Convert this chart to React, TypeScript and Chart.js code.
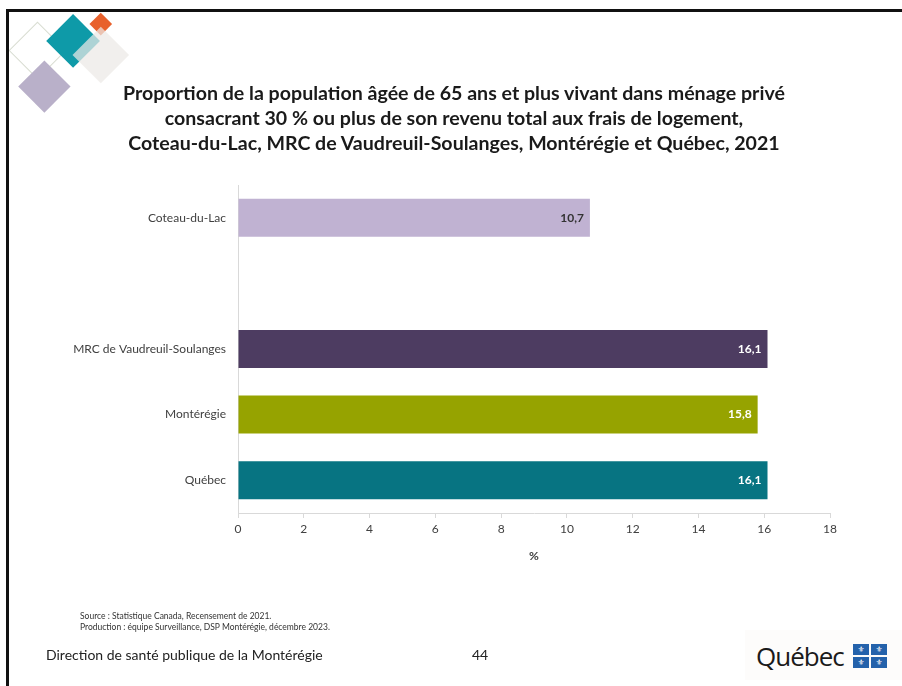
import React, { useEffect, useRef } from "react";
import { Chart, registerables } from "chart.js";

Chart.register(...registerables);

const categories = ["Coteau-du-Lac", "", "MRC de Vaudreuil-Soulanges", "Montérégie", "Québec"];
const values: (number | null)[] = [10.7, null, 16.1, 15.8, 16.1];
const barColors = ["#c0b2d2", "#ffffff", "#4d3c61", "#96a300", "#077482"];
const valueLabelColors = ["#333333", "#ffffff", "#ffffff", "#ffffff", "#ffffff"];
const xTickMin = 0;
const xTickMax = 18;
const xTickStep = 2;
const titleLines = [
  "Proportion de la population âgée de 65 ans et plus vivant dans ménage privé",
  "consacrant 30 % ou plus de son revenu total aux frais de logement,",
  "Coteau-du-Lac, MRC de Vaudreuil-Soulanges, Montérégie et Québec, 2021",
];
const sourceLines = [
  "Source : Statistique Canada, Recensement de 2021.",
  "Production : équipe Surveillance, DSP Montérégie, décembre 2023.",
];
const footerLeft = "Direction de santé publique de la Montérégie";
const pageNumber = "44";

const FONT = "Lato, 'Open Sans', sans-serif";

const valueLabelPlugin = {
  id: "valueLabels",
  afterDatasetsDraw(chart: any) {
    const ctx = chart.ctx;
    const meta = chart.getDatasetMeta(0);
    ctx.save();
    ctx.font = `bold 12px ${FONT}`;
    ctx.textAlign = "right";
    ctx.textBaseline = "middle";
    meta.data.forEach((bar: any, i: number) => {
      const v = values[i];
      if (v == null) return;
      ctx.fillStyle = valueLabelColors[i];
      ctx.fillText(v.toFixed(1).replace(".", ","), bar.x - 6, bar.y);
    });
    ctx.restore();
  },
};

function Diamond(props: { cx: number; cy: number; r: number; bg?: string; border?: string; z?: number }) {
  const side = props.r * Math.SQRT2;
  return (
    <div
      style={{
        position: "absolute",
        left: props.cx - side / 2,
        top: props.cy - side / 2,
        width: side,
        height: side,
        background: props.bg || "transparent",
        border: props.border || "none",
        boxSizing: "border-box",
        transform: "rotate(45deg)",
        zIndex: props.z || 1,
      }}
    />
  );
}

export default function App() {
  const canvasRef = useRef<HTMLCanvasElement | null>(null);

  useEffect(() => {
    if (!canvasRef.current) return;
    const chart = new Chart(canvasRef.current, {
      type: "bar",
      data: {
        labels: categories,
        datasets: [
          {
            data: values as any,
            backgroundColor: barColors,
            borderWidth: 0,
            barPercentage: 0.58,
            categoryPercentage: 1,
          },
        ],
      },
      options: {
        indexAxis: "y",
        responsive: false,
        animation: false,
        devicePixelRatio: 1,
        layout: { padding: { top: 185, bottom: 123, left: 0, right: 72 } },
        plugins: {
          legend: { display: false },
          tooltip: { enabled: false },
          title: { display: false },
        },
        scales: {
          x: {
            min: xTickMin,
            max: xTickMax,
            ticks: {
              stepSize: xTickStep,
              color: "#404040",
              font: { family: FONT, size: 12 },
              padding: 4,
            },
            grid: {
              drawOnChartArea: false,
              drawTicks: true,
              tickLength: 5,
              color: "#d9d9d9",
            },
            border: { display: true, color: "#d9d9d9", width: 1 },
            title: {
              display: true,
              text: "%",
              color: "#404040",
              font: { family: FONT, size: 12, weight: "bold" },
              padding: { top: 3, bottom: 0 },
            },
            afterFit: (s: any) => {
              s.height = 50;
            },
          } as any,
          y: {
            ticks: {
              color: "#404040",
              font: { family: FONT, size: 12 },
              padding: 12,
            },
            grid: { drawOnChartArea: false, drawTicks: false, color: "#d9d9d9" },
            border: { display: true, color: "#d9d9d9", width: 1 },
            afterFit: (s: any) => {
              s.width = 238;
            },
          } as any,
        },
      },
      plugins: [valueLabelPlugin],
    });
    return () => chart.destroy();
  }, []);

  return (
    <div
      style={{
        position: "fixed",
        left: 0,
        top: 0,
        width: 902,
        height: 686,
        background: "#ffffff",
        overflow: "hidden",
        fontFamily: FONT,
      }}
    >
      <canvas ref={canvasRef} width={902} height={686} style={{ position: "absolute", left: 0, top: 0 }} />
      {/* slide frame */}
      <div style={{ position: "absolute", left: 6, top: 9, right: 0, height: 3, background: "#111", zIndex: 5 }} />
      <div style={{ position: "absolute", left: 6, top: 9, bottom: 0, width: 3, background: "#111", zIndex: 5 }} />
      {/* decorative diamonds */}
      <Diamond cx={38} cy={51} r={29} border="1.5px solid #d9ddd2" z={1} />
      <Diamond cx={73} cy={41} r={27} bg="#0e9aa8" z={2} />
      <Diamond cx={101} cy={24} r={11} bg="#e8612c" z={2} />
      <Diamond cx={101} cy={55} r={28} bg="rgba(236,233,230,0.72)" z={3} />
      <Diamond cx={44} cy={86} r={26} bg="#b9b0c9" z={2} />
      {/* title */}
      <div
        style={{
          position: "absolute",
          left: 0,
          top: 80,
          width: 908,
          textAlign: "center",
          fontWeight: "bold",
          fontSize: 19.6,
          lineHeight: "25px",
          color: "#1a1a1a",
        }}
      >
        {titleLines.map((t, i) => (
          <div key={i}>{t}</div>
        ))}
      </div>
      {/* source */}
      <div style={{ position: "absolute", left: 80, top: 611, fontSize: 8.5, lineHeight: "11px", color: "#333" }}>
        {sourceLines.map((t, i) => (
          <div key={i}>{t}</div>
        ))}
      </div>
      <div style={{ position: "absolute", left: 46, top: 646, fontSize: 14, color: "#222" }}>{footerLeft}</div>
      <div style={{ position: "absolute", left: 472, top: 646, fontSize: 14, color: "#222" }}>{pageNumber}</div>
      {/* Québec logo */}
      <div style={{ position: "absolute", left: 745, top: 630, width: 157, height: 50, background: "#fdfcfb" }} />
      <div
        style={{
          position: "absolute",
          left: 756,
          top: 639,
          fontSize: 26,
          lineHeight: "34px",
          color: "#1a1a1a",
          fontFamily: "'Open Sans', sans-serif",
          letterSpacing: -1,
        }}
      >
        Québec
      </div>
      <div
        style={{
          position: "absolute",
          left: 853,
          top: 644,
          width: 34,
          height: 24,
          display: "grid",
          gridTemplateColumns: "16px 16px",
          gridTemplateRows: "11px 11px",
          gap: 2,
        }}
      >
        {[0, 1, 2, 3].map((k) => (
          <div
            key={k}
            style={{
              background: "#2462ab",
              color: "#fff",
              fontSize: 8,
              lineHeight: "11px",
              textAlign: "center",
              fontFamily: "'DejaVu Sans', sans-serif",
            }}
          >
            ⚜
          </div>
        ))}
      </div>
    </div>
  );
}
